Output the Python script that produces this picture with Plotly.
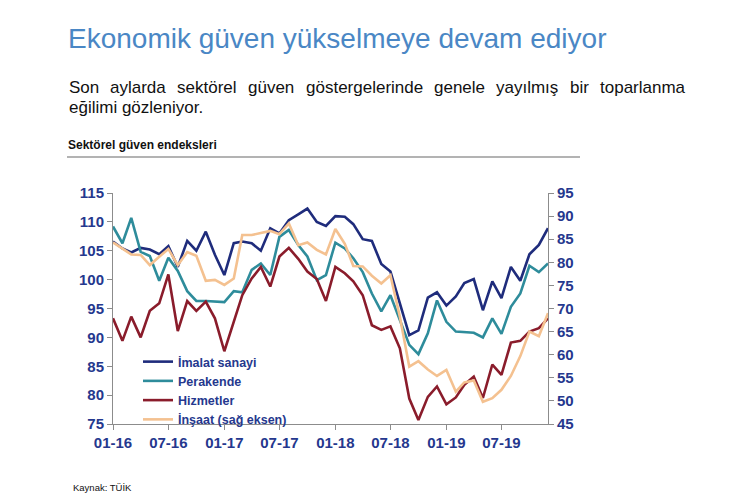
import pandas as pd
import plotly.graph_objects as go

# ---------------- data ----------------
months = pd.date_range("2016-01-01", periods=48, freq="MS")

imalat = [106.6, 105.4, 104.7, 105.5, 105.2, 104.4, 105.8, 102.2, 106.7, 105.0, 108.3, 104.3,
          100.8, 106.3, 106.6, 106.3, 105.0, 108.9, 108.0, 110.3, 111.3, 112.3, 110.0, 109.3,
          111.0, 110.9, 109.6, 107.0, 106.7, 102.7, 101.4, 95.9, 90.4, 91.2, 96.9, 97.8,
          95.5, 97.1, 99.4, 100.1, 94.7, 99.7, 96.8, 102.2, 99.8, 104.4, 106.0, 108.9]
perakende = [109.2, 106.3, 110.7, 104.8, 104.1, 99.8, 103.8, 101.5, 98.0, 96.3, 96.3, 96.2,
             96.1, 98.0, 97.8, 101.7, 102.8, 100.8, 107.4, 108.6, 106.0, 104.0, 99.9, 100.8,
             106.4, 105.4, 103.7, 101.3, 97.6, 94.5, 97.3, 93.0, 88.7, 87.1, 90.7, 96.4,
             92.7, 91.0, 90.9, 90.8, 90.0, 93.3, 90.6, 95.3, 97.6, 102.4, 101.3, 102.8]
hizmetler = [93.3, 89.4, 93.6, 90.0, 94.6, 95.9, 100.9, 91.1, 96.3, 94.6, 96.2, 93.3,
             87.6, 92.7, 97.3, 100.2, 102.2, 98.8, 104.0, 105.5, 103.6, 101.4, 100.1, 96.3,
             102.2, 101.1, 99.7, 97.3, 92.1, 91.3, 91.9, 88.1, 79.4, 75.7, 79.7, 81.5,
             78.4, 79.6, 81.8, 83.2, 79.5, 85.3, 83.5, 89.1, 89.4, 91.0, 91.6, 93.3]
insaat = [84.3, 82.9, 81.7, 81.6, 79.4, 81.2, 82.9, 79.4, 82.2, 81.4, 76.0, 76.2,
          75.1, 76.5, 85.9, 85.9, 86.4, 86.8, 86.1, 88.4, 83.7, 84.3, 82.7, 81.7,
          87.2, 84.0, 79.2, 79.1, 77.1, 75.4, 77.2, 68.2, 57.4, 58.6, 56.8, 55.4,
          56.7, 52.0, 54.0, 54.4, 49.8, 50.6, 52.4, 55.4, 59.7, 65.0, 64.0, 69.0]

series_names = ["İmalat sanayi", "Perakende", "Hizmetler", "İnşaat (sağ eksen)"]
tick_dates = ["2016-01-01", "2016-07-01", "2017-01-01", "2017-07-01",
              "2018-01-01", "2018-07-01", "2019-01-01", "2019-07-01"]
tick_labels = ["01-16", "07-16", "01-17", "07-17", "01-18", "07-18", "01-19", "07-19"]

title_text = "Ekonomik güven yükselmeye devam ediyor"
subtitle_line1 = "Son aylarda sektörel güven göstergelerinde genele yayılmış bir toparlanma"
subtitle_line2 = "eğilimi gözleniyor."
chart_title = "Sektörel güven endeksleri"
source_text = "Kaynak: TÜİK"

# ---------------- styling ----------------
W, H = 730, 500
L, R, T, B = 113, 182, 193, 76
PW, PH = W - L - R, H - T - B
FONT = "Arial, Liberation Sans, Helvetica, sans-serif"
NAVY = "#25388E"
AXIS = "#8C8C8C"
colors = ["#1F2C7C", "#2E8C9B", "#8A1C2B", "#F4C190"]


def px_x(x):
    return (x - L) / PW


def px_y(y):
    return (H - B - y) / PH


fig = go.Figure()
for name, vals, col, ax in zip(series_names, [imalat, perakende, hizmetler, insaat],
                               colors, ["y", "y", "y", "y2"]):
    fig.add_trace(go.Scatter(x=months, y=vals, name=name, mode="lines",
                             line=dict(color=col, width=2.6), yaxis=ax))

fig.update_layout(
    width=W, height=H,
    margin=dict(l=L, r=R, t=T, b=B, pad=0),
    paper_bgcolor="white", plot_bgcolor="white",
    font=dict(family=FONT),
    showlegend=True,
    legend=dict(x=px_x(138), y=px_y(347), xanchor="left", yanchor="top",
                bgcolor="rgba(0,0,0,0)", font=dict(size=12.5, color=NAVY, weight="bold"),
                tracegroupgap=0, itemwidth=30),
    xaxis=dict(type="date", range=["2016-01-01", "2019-12-01"],
               tickvals=tick_dates, ticktext=tick_labels,
               ticks="outside", ticklen=5, tickcolor=AXIS,
               showline=True, linecolor=AXIS, linewidth=1, showgrid=False, zeroline=False,
               tickfont=dict(size=15, color=NAVY, weight="bold")),
    yaxis=dict(range=[75, 115], dtick=5, tick0=75,
               ticks="outside", ticklen=5, tickcolor=AXIS,
               showline=True, linecolor=AXIS, linewidth=1, showgrid=False, zeroline=False,
               tickfont=dict(size=15, color=NAVY, weight="bold")),
    yaxis2=dict(range=[45, 95], dtick=5, tick0=45, overlaying="y", side="right",
                ticks="outside", ticklen=5, tickcolor=AXIS,
                showline=True, linecolor=AXIS, linewidth=1, showgrid=False, zeroline=False,
                tickfont=dict(size=15, color=NAVY, weight="bold")),
)

ann = []
ann.append(dict(text=title_text, x=px_x(66), y=px_y(38), xref="paper", yref="paper",
                xanchor="left", yanchor="middle", showarrow=False,
                font=dict(size=28, color="#4A87C5", family=FONT)))

# justified first subtitle line (Arial advance widths, units per 1000 em)
adv = {" ": 278, "a": 556, "b": 556, "d": 556, "e": 556, "g": 556, "i": 222, "k": 500,
       "l": 222, "m": 833, "n": 556, "o": 556, "p": 556, "r": 333, "s": 500, "t": 278,
       "u": 556, "v": 500, "y": 500, "z": 500, "S": 667, "ö": 556, "ü": 556, "ğ": 556,
       "ı": 278, "ş": 500, ".": 278}
SUB_SIZE = 17
x0, x1 = 67, 683
words = subtitle_line1.split(" ")
wwidths = [sum(adv.get(c, 556) for c in w) * SUB_SIZE / 1000 for w in words]
gap = (x1 - x0 - sum(wwidths)) / (len(words) - 1)
xx = x0
for w, ww in zip(words, wwidths):
    ann.append(dict(text=w, x=px_x(xx), y=px_y(87), xref="paper", yref="paper",
                    xanchor="left", yanchor="middle", showarrow=False,
                    font=dict(size=SUB_SIZE, color="#111111", family=FONT)))
    xx += ww + gap
ann.append(dict(text=subtitle_line2, x=px_x(x0), y=px_y(108), xref="paper", yref="paper",
                xanchor="left", yanchor="middle", showarrow=False,
                font=dict(size=SUB_SIZE, color="#111111", family=FONT)))

ann.append(dict(text="<b>" + chart_title + "</b>", x=px_x(66), y=px_y(145), xref="paper",
                yref="paper", xanchor="left", yanchor="middle", showarrow=False,
                font=dict(size=12, color="#111111", family=FONT)))
ann.append(dict(text=source_text, x=px_x(71), y=px_y(487), xref="paper", yref="paper",
                xanchor="left", yanchor="middle", showarrow=False,
                font=dict(size=9.5, color="#111111", family=FONT)))
fig.update_layout(annotations=ann)

fig.add_shape(type="line", xref="paper", yref="paper", x0=px_x(67), x1=px_x(580),
              y0=px_y(157), y1=px_y(157), line=dict(color="#9A9A9A", width=1.5))

fig.write_html("out.html")
